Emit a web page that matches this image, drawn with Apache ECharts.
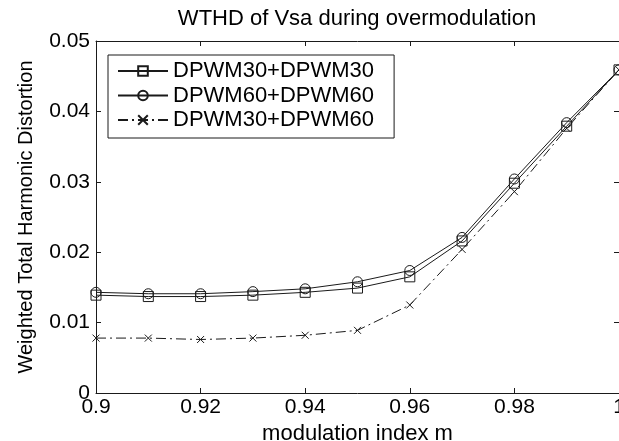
<!DOCTYPE html>
<html style="height: 100%">
<head>
    <meta charset="utf-8">
    <script type="text/javascript" src="https://cdn.jsdelivr.net/npm/echarts@6/dist/echarts.min.js"></script>
</head>
<body style="height: 100%; margin: 0; background: #fff">
    <div id="container" style="width: 619px; height: 441px"></div>
    <script type="text/javascript">
        // modulation index m
        var mIndex = [0.90, 0.91, 0.92, 0.93, 0.94, 0.95, 0.96, 0.97, 0.98, 0.99, 1.00];
        // WTHD values
        var dpwm30_30 = [0.0139, 0.0137, 0.0137, 0.0139, 0.0143, 0.0149, 0.0165, 0.0216, 0.0298, 0.0379, 0.0459];
        var dpwm60_60 = [0.0143, 0.0141, 0.0141, 0.0144, 0.0148, 0.0158, 0.0174, 0.0221, 0.0304, 0.0384, 0.0459];
        var dpwm30_60 = [0.0078, 0.0078, 0.0076, 0.0078, 0.0082, 0.0089, 0.0125, 0.0204, 0.0286, 0.0376, 0.0459];
        var seriesNames = ['DPWM30+DPWM30', 'DPWM60+DPWM60', 'DPWM30+DPWM60'];

        var font = "'Liberation Sans', Arial, sans-serif";
        var ink = '#1a1a1a';

        function pairs(vals) {
            return mIndex.map(function (m, i) { return [m, vals[i]]; });
        }

        function boxAxis(pos) {
            return {
                type: 'value',
                position: pos,
                axisLine: { show: true, onZero: false, lineStyle: { color: ink, width: 1 } },
                axisTick: { show: true, inside: true, length: 5, lineStyle: { color: ink } },
                axisLabel: { show: false },
                splitLine: { show: false }
            };
        }

        var chart = echarts.init(document.getElementById('container'), null, { renderer: 'canvas' });

        var xTop = boxAxis('top');
        xTop.min = 0.9; xTop.max = 1.0; xTop.interval = 0.02;
        var yRight = boxAxis('right');
        yRight.min = 0; yRight.max = 0.05; yRight.interval = 0.01;

        var option = {
            animation: false,
            backgroundColor: '#fff',
            textStyle: { fontFamily: font, color: '#000' },
            title: {
                text: 'WTHD of Vsa during overmodulation',
                left: 357,
                top: 8,
                padding: 0,
                textAlign: 'center',
                textStyle: { fontFamily: font, fontSize: 22, fontWeight: 'normal', color: '#000' }
            },
            grid: { left: 96, right: 0, top: 41, bottom: 48, containLabel: false, outerBoundsMode: 'none' },
            legend: {
                orient: 'vertical',
                left: 108,
                top: 55,
                padding: [5, 20, 7, 9],
                itemGap: 2.5,
                itemWidth: 50,
                itemHeight: 12,
                borderColor: ink,
                borderWidth: 1,
                backgroundColor: '#fff',
                data: seriesNames,
                textStyle: { fontFamily: font, fontSize: 22, lineHeight: 22, color: '#000' }
            },
            xAxis: [{
                type: 'value',
                min: 0.9,
                max: 1.0,
                interval: 0.02,
                name: 'modulation index m',
                nameLocation: 'middle',
                nameGap: 19,
                nameTextStyle: { fontFamily: font, fontSize: 22, color: '#000' },
                axisLine: { show: true, onZero: false, lineStyle: { color: ink, width: 1 } },
                axisTick: { show: true, inside: true, length: 5, lineStyle: { color: ink } },
                axisLabel: { margin: 4, fontFamily: font, fontSize: 21, color: '#000' },
                splitLine: { show: false }
            }, xTop],
            yAxis: [{
                type: 'value',
                min: 0,
                max: 0.05,
                interval: 0.01,
                name: 'Weighted Total Harmonic Distortion',
                nameLocation: 'middle',
                nameGap: 60,
                nameTextStyle: { fontFamily: font, fontSize: 20, color: '#000' },
                axisLine: { show: true, onZero: false, lineStyle: { color: ink, width: 1 } },
                axisTick: { show: true, inside: true, length: 5, lineStyle: { color: ink } },
                axisLabel: { margin: 6, fontFamily: font, fontSize: 21, color: '#000' },
                splitLine: { show: false }
            }, yRight],
            series: [
                {
                    name: seriesNames[0],
                    type: 'line',
                    data: pairs(dpwm30_30),
                    symbol: 'rect',
                    symbolSize: 10,
                    showAllSymbol: true,
                    lineStyle: { color: ink, width: 1 },
                    itemStyle: { color: 'transparent', borderColor: ink, borderWidth: 1 }
                },
                {
                    name: seriesNames[1],
                    type: 'line',
                    data: pairs(dpwm60_60),
                    symbol: 'circle',
                    symbolSize: 10,
                    showAllSymbol: true,
                    lineStyle: { color: ink, width: 1 },
                    itemStyle: { color: 'transparent', borderColor: ink, borderWidth: 1 }
                },
                {
                    name: seriesNames[2],
                    type: 'line',
                    data: pairs(dpwm30_60),
                    symbol: 'path://M0,0L10,10M10,0L0,10',
                    symbolSize: 7,
                    showAllSymbol: true,
                    lineStyle: { color: ink, width: 1, type: [10, 4, 2, 4] },
                    itemStyle: { color: 'transparent', borderColor: ink, borderWidth: 1 }
                }
            ]
        };
        chart.setOption(option);
    </script>
</body>
</html>
